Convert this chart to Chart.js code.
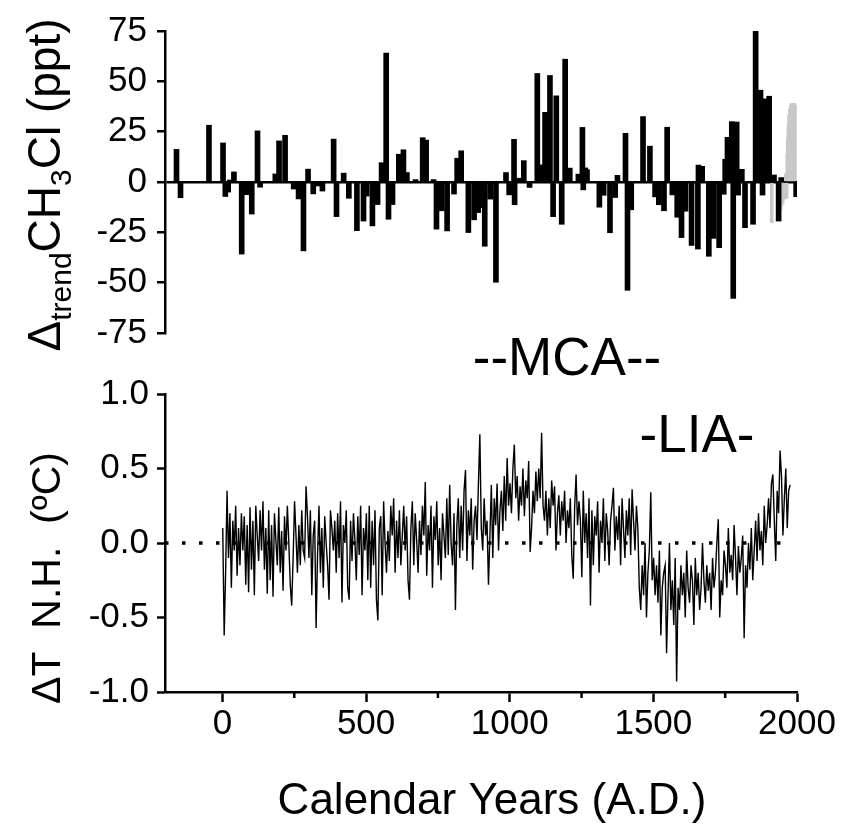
<!DOCTYPE html>
<html>
<head>
<meta charset="utf-8">
<script src="https://cdn.jsdelivr.net/npm/chart.js@4.4.1/dist/chart.umd.min.js"></script>
<style>
  body { margin: 0; background: #fff; }
  #wrap { position: relative; width: 844px; height: 824px; }
  #wrap canvas { position: absolute; left: 0; top: 0; }
</style>
</head>
<body>
<div id="wrap">
  <canvas id="tempChart" width="844" height="824"></canvas>
  <canvas id="ch3clChart" width="844" height="824"></canvas>
</div>
<script>
// ---- data ----
// CH3Cl anomaly bars (ice core), years A.D. and ppt
const barYears = [-160, -146, -47, 2, 10, 20, 26, 40, 67, 84, 102, 122, 131, 184, 197, 218,
  248, 265, 282, 298, 316, 335, 348, 387, 397, 422, 440, 468, 491, 502, 522, 540, 554, 570,
  578, 592, 614, 630, 642, 672, 697, 709, 735, 745, 763, 782, 806, 817, 831, 856, 876, 890,
  897, 913, 932, 952, 987, 998, 1015, 1017, 1030, 1049, 1069, 1096, 1109, 1123, 1140, 1151,
  1162, 1181, 1193, 1209, 1239, 1253, 1256, 1263, 1269, 1312, 1327, 1349, 1367, 1375, 1403,
  1410, 1423, 1464, 1488, 1506, 1519, 1537, 1548, 1566, 1583, 1598, 1612, 1633, 1655, 1657,
  1670, 1693, 1710, 1729, 1745, 1750, 1758, 1773, 1778, 1790, 1795, 1808, 1819, 1847, 1856,
  1873, 1880, 1888, 1903, 1920, 1936, 1945, 1997];
const barValues = [16.2, -7.8, 28.2, 19.4, -7.2, -5, 1, 5, -35.8, -6.3, -15.9, 25.4, -2.6, 4, 20.4, 23.2,
  -3.5, -8.4, -34.2, 6.4, -5.9, -2, -4.5, 21.3, -17.2, 4.4, -8.1, -24.2, -19.4, -7, -21.8, -11.2, 9.6, 64,
  -18.5, -11.2, 13.8, 16, 4.7, 1.2, 22, 20.8, 1.2, -23.4, -14.3, -24.3, -6, 11.8, 15.5, -25.1, -18.8, -15.2,
  -12.7, -31.9, -8.5, -49.8, 4.7, -6.4, 21.2, -11.3, 1.9, 10.6, -2.7, 53.9, 8.5, 34.6, 52.9, -17.2,
  42.8, -21, 61, 6.9, 3.9, 27.1, -3.9, 7, 6.1, -12.5, -6.6, -25.2, -7.7, 3.3, 24.2,
  -53.8, -13.8, 32.5, 17.8, -7.4, -11.3, -14.3, 27.2, -6.4, -17.5, -27.6, -14.5, -31.5, -33.3, 8.4,
  7.8, -36.9, -28, -32.6, -6.1, 11.3, 22.2, 30, -57.8, 29.8, -6.5, 6.3, -22.7, -21, 75,
  45.6, -6.5, 41.3, 42.6, 3.5, -19.4, 2.2, -7.3];
// modern record (grey bars)
const modernYears = [1912, 1942, 1946, 1950, 1954, 1958, 1961, 1964, 1966, 1968, 1970, 1972, 1975,
  1978, 1981, 1984, 1987, 1990, 1993];
const modernValues = [-20.2, -14, -12, -10.6, -8, -8.5, 4, -8, 14, 22, 28, 33, 36,
  38, 39, 39, 39, 39, 38];

// N.H. temperature anomaly (deg C), one value every 5 years from A.D. 1
const tempStartYear = 1;
const tempStepYears = 5;
const tempValues = [
  0.10, -0.62, -0.20, 0.35, -0.10, 0.20, -0.30, 0.15, -0.05, 0.25, -0.22, 0.10, -0.15, 0.20, -0.05, 0.18, -0.28, 0.12, -0.33, 0.24,
  -0.18, 0.15, -0.35, 0.25, 0.05, -0.12, 0.22, -0.05, 0.28, -0.18, 0.10, -0.34, 0.22, -0.25, 0.12, -0.36, 0.20, 0.02, -0.15, 0.24,
  -0.20, 0.08, -0.32, 0.18, -0.05, 0.25, 0.00, -0.28, -0.42, -0.10, 0.28, 0.05, -0.20, 0.12, -0.15, 0.22, -0.05, -0.10, 0.38, 0.18,
  -0.10, 0.22, -0.35, 0.05, 0.15, -0.57, -0.08, 0.25, -0.20, 0.10, -0.30, 0.18, 0.00, -0.15, -0.38, 0.22, 0.10, -0.05, 0.15, -0.20,
  0.20, -0.10, 0.28, -0.40, 0.12, 0.00, 0.22, -0.30, -0.38, 0.15, -0.12, 0.20, 0.02, -0.25, 0.18, -0.08, 0.25, -0.35, 0.10, -0.05,
  0.20, -0.25, 0.25, -0.30, 0.15, -0.15, 0.22, -0.38, -0.52, 0.10, 0.18, -0.35, 0.28, 0.00, -0.20, 0.08, -0.12, 0.25, 0.05, 0.30,
  -0.20, 0.15, -0.10, 0.22, -0.15, 0.05, 0.25, -0.05, 0.18, -0.25, -0.38, 0.10, 0.28, -0.15, 0.20, 0.02, -0.20, 0.15, -0.08, 0.25,
  0.05, 0.41, -0.22, 0.12, -0.05, 0.25, -0.30, 0.18, 0.02, 0.28, -0.15, 0.10, -0.25, 0.20, 0.05, -0.10, 0.30, -0.08, 0.39, 0.00,
  -0.15, 0.20, -0.45, 0.12, 0.30, -0.10, 0.25, -0.05, 0.35, 0.49, -0.12, 0.22, 0.05, 0.30, -0.18, 0.15, 0.25, 0.02, 0.40, 0.73,
  0.10, -0.05, 0.30, 0.05, 0.15, -0.28, 0.05, 0.39, -0.10, 0.30, 0.12, 0.40, -0.05, 0.22, 0.35, 0.08, 0.45, 0.15, 0.57, 0.25,
  0.40, 0.20, 0.50, 0.66, 0.30, 0.45, 0.15, 0.38, 0.25, 0.50, 0.18, 0.42, 0.30, 0.55, -0.06, 0.10, 0.35, 0.20, 0.48, 0.28,
  0.50, 0.30, 0.74, 0.25, 0.15, 0.35, 0.05, 0.30, 0.10, 0.42, 0.25, 0.38, -0.05, 0.20, 0.32, 0.05, 0.28, 0.15, 0.35, 0.00,
  0.22, 0.10, 0.30, -0.08, -0.24, 0.24, 0.46, 0.12, 0.28, 0.15, -0.23, 0.35, 0.00, 0.20, -0.10, 0.30, -0.42, 0.22, -0.15, 0.18,
  0.05, 0.28, -0.20, 0.15, 0.00, 0.30, -0.12, 0.20, 0.08, -0.15, 0.15, 0.25, 0.37, -0.05, 0.18, 0.02, 0.25, -0.15, 0.30, 0.10,
  -0.10, 0.22, 0.05, 0.30, -0.08, 0.36, 0.15, -0.05, 0.25, 0.10, -0.30, -0.45, -0.15, -0.35, 0.00, -0.50, -0.20, -0.05, 0.34, -0.25,
  -0.10, -0.35, -0.15, -0.40, -0.05, -0.62, -0.30, -0.20, -0.15, -0.74, -0.35, 0.00, -0.45, -0.25, -0.55, -0.10, -0.93, -0.30, -0.45, -0.15,
  -0.35, -0.20, -0.50, -0.05, -0.30, -0.40, -0.15, -0.25, -0.55, -0.10, -0.35, -0.20, -0.45, -0.30, 0.00, -0.25, -0.40, -0.15, -0.32, -0.20,
  -0.45, -0.10, -0.30, -0.20, 0.00, 0.16, -0.50, -0.25, -0.35, -0.05, -0.15, -0.30, 0.10, -0.20, -0.08, -0.25, 0.12, -0.10, -0.35, -0.02,
  -0.20, -0.10, 0.05, -0.64, -0.15, -0.30, 0.00, -0.18, 0.10, -0.25, -0.05, 0.15, -0.12, 0.20, -0.05, 0.08, -0.15, 0.25, 0.00, 0.12,
  0.30, 0.10, 0.40, 0.46, 0.15, -0.12, 0.35, 0.20, 0.62, 0.45, 0.05, 0.30, 0.50, 0.10, 0.35, 0.39
];
const zeroLineYears = [-200, 1980];

// axes
const yearMin = -200, yearMax = 2000;
const yearTicks = [0, 500, 1000, 1500, 2000];
const yearMinorTicks = [250, 750, 1250, 1750];
const ch3clTicks = [-75, -50, -25, 0, 25, 50, 75];
const ch3clMinorTicks = [-62.5, -37.5, -12.5, 12.5, 37.5, 62.5];
const tempTicks = [-1, -0.5, 0, 0.5, 1];
const tempMinorTicks = [-0.75, -0.25, 0.25, 0.75];

const FONT = "'Liberation Sans', Arial, sans-serif";
Chart.defaults.font.family = FONT;
Chart.defaults.color = '#000';

function tickList(major, minor) {
  return major.concat(minor).sort((a, b) => a - b).map(v => ({ value: v }));
}

// axis titles and period labels, drawn on the canvas
const labelsPlugin = {
  id: 'labels',
  afterDraw(chart) {
    const ctx = chart.ctx;
    ctx.save();
    ctx.fillStyle = '#000';
    ctx.textBaseline = 'alphabetic';

    // top y title with subscripts
    const parts = [
      { t: '\u0394', size: 46, dy: 0 },
      { t: 'trend', size: 30, dy: 11 },
      { t: 'CH', size: 46, dy: 0 },
      { t: '3', size: 30, dy: 11 },
      { t: 'Cl (ppt)', size: 46, dy: 0 }
    ];
    let total = 0;
    parts.forEach(p => { ctx.font = p.size + 'px ' + FONT; p.w = ctx.measureText(p.t).width; total += p.w; });
    ctx.save();
    ctx.translate(60, 185);
    ctx.rotate(-Math.PI / 2);
    let x = -total / 2;
    parts.forEach(p => { ctx.font = p.size + 'px ' + FONT; ctx.fillText(p.t, x, p.dy); x += p.w; });
    ctx.restore();

    // bottom y title
    ctx.save();
    ctx.translate(60, 578);
    ctx.rotate(-Math.PI / 2);
    ctx.font = '41px ' + FONT;
    ctx.textAlign = 'center';
    ctx.fillText('\u0394T  N.H.  (\u00baC)', 0, 0);
    ctx.restore();

    // x title
    ctx.font = '44px ' + FONT;
    ctx.textAlign = 'center';
    ctx.fillText('Calendar Years (A.D.)', 492, 814);

    // periods
    ctx.font = '53px ' + FONT;
    ctx.fillText('--MCA--', 567, 375);
    ctx.fillText('-LIA-', 697, 452);
    ctx.restore();
  }
};

// shorter minor ticks on the year axis
const minorTicksPlugin = {
  id: 'minorTicks',
  afterDraw(chart) {
    const xs = chart.scales.x;
    const ctx = chart.ctx;
    ctx.save();
    ctx.strokeStyle = '#000';
    ctx.lineWidth = 2.5;
    yearMinorTicks.forEach(v => {
      const px = xs.getPixelForValue(v);
      ctx.beginPath();
      ctx.moveTo(px, xs.top);
      ctx.lineTo(px, xs.top + 6);
      ctx.stroke();
    });
    ctx.restore();
  }
};

const tickFont = { size: 35 };

// ---- top panel: CH3Cl bars ----
new Chart(document.getElementById('ch3clChart'), {
  type: 'bar',
  data: {
    datasets: [{
      data: barYears.map((yr, i) => ({ x: yr, y: barValues[i] })),
      backgroundColor: '#000',
      barThickness: 5,
      order: 1
    }, {
      data: modernYears.map((yr, i) => ({ x: yr, y: modernValues[i] })),
      backgroundColor: '#c8c8c8',
      barThickness: 3,
      order: 2
    }]
  },
  options: {
    responsive: false,
    animation: false,
    events: [],
    layout: { padding: { top: 30, bottom: 491, left: 0, right: 47 } },
    plugins: { legend: { display: false }, tooltip: { enabled: false } },
    datasets: { bar: { grouped: false } },
    scales: {
      x: { type: 'linear', min: yearMin, max: yearMax, offset: false, display: false },
      y: {
        min: -75, max: 75,
        afterFit(s) { s.width = 165; },
        afterBuildTicks(s) { s.ticks = tickList(ch3clTicks, ch3clMinorTicks); },
        border: { display: true, color: '#000', width: 2.5 },
        grid: {
          color: c => (c.tick && c.tick.value === 0 ? '#000' : 'rgba(0,0,0,0)'),
          lineWidth: 2.5,
          tickColor: '#000',
          tickWidth: 2.5,
          tickLength: 8
        },
        ticks: {
          font: tickFont,
          padding: 10,
          callback: v => (ch3clTicks.includes(v) ? String(v) : '')
        }
      }
    }
  },
  plugins: [labelsPlugin]
});

// ---- bottom panel: temperature ----
new Chart(document.getElementById('tempChart'), {
  type: 'line',
  data: {
    datasets: [{
      data: tempValues.map((v, i) => ({ x: tempStartYear + i * tempStepYears, y: v })),
      borderColor: '#000',
      borderWidth: 1.4,
      pointRadius: 0,
      tension: 0
    }, {
      data: zeroLineYears.map(yr => ({ x: yr, y: 0 })),
      borderColor: '#000',
      borderWidth: 3.5,
      borderDash: [3.5, 13.5],
      pointRadius: 0
    }]
  },
  options: {
    responsive: false,
    animation: false,
    events: [],
    layout: { padding: { top: 394, bottom: 0, left: 0, right: 47 } },
    plugins: { legend: { display: false }, tooltip: { enabled: false } },
    scales: {
      x: {
        type: 'linear', min: yearMin, max: yearMax,
        afterFit(s) { s.height = 132; },
        afterBuildTicks(s) { s.ticks = yearTicks.map(v => ({ value: v })); },
        border: { display: true, color: '#000', width: 2.5 },
        grid: { color: 'rgba(0,0,0,0)', tickColor: '#000', tickWidth: 2.5, tickLength: 10 },
        ticks: { font: tickFont, padding: 1, maxRotation: 0, callback: v => String(v) }
      },
      y: {
        min: -1, max: 1,
        afterFit(s) { s.width = 165; },
        afterBuildTicks(s) { s.ticks = tickList(tempTicks, tempMinorTicks); },
        border: { display: true, color: '#000', width: 2.5 },
        grid: { color: 'rgba(0,0,0,0)', tickColor: '#000', tickWidth: 2.5, tickLength: 8 },
        ticks: {
          font: tickFont,
          padding: 8,
          callback: v => (tempTicks.includes(v) ? v.toFixed(1) : '')
        }
      }
    }
  },
  plugins: [minorTicksPlugin]
});
</script>
</body>
</html>
